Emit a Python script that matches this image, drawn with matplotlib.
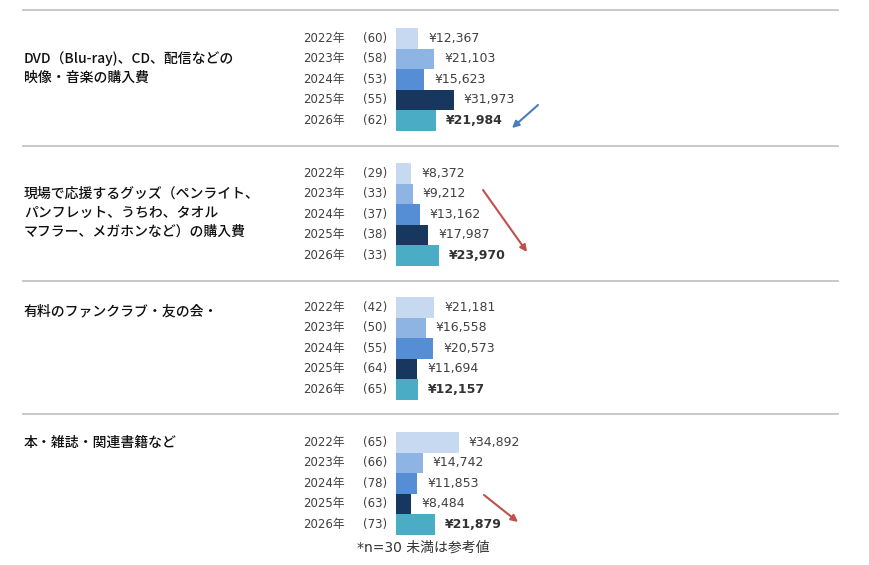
import matplotlib
matplotlib.use("Agg")
import matplotlib.pyplot as plt
from matplotlib.transforms import blended_transform_factory

plt.rcParams['font.family'] = ['Noto Sans CJK JP', 'DejaVu Sans']
latin_first = ['DejaVu Sans', 'Noto Sans CJK JP']

# data
categories = [
    "DVD（Blu-ray)、CD、配信などの\n映像・音楽の購入費",
    "現場で応援するグッズ（ペンライト、\nパンフレット、うちわ、タオル\nマフラー、メガホンなど）の購入費",
    "有料のファンクラブ・友の会・",
    "本・雑誌・関連書籍など",
]
years = ["2022年", "2023年", "2024年", "2025年", "2026年"]
counts = [
    [60, 58, 53, 55, 62],
    [29, 33, 37, 38, 33],
    [42, 50, 55, 64, 65],
    [65, 66, 78, 63, 73],
]
amounts = [
    [12367, 21103, 15623, 31973, 21984],
    [8372, 9212, 13162, 17987, 23970],
    [21181, 16558, 20573, 11694, 12157],
    [34892, 14742, 11853, 8484, 21879],
]
note = "*n=30 未満は参考値"

colors = ["#c6d9f0", "#8eb4e3", "#558ed5", "#17375e", "#4bacc6"]

# layout (pixels)
W, H = 870, 565
bar_left_px = 396
px_per_yen = 0.0018
group_top = [28, 163, 297, 432]
bar_h = 20.5
sep_y = [10, 146, 281, 414]
label_off = [40, 50, 14, 11]

fig = plt.figure(figsize=(W / 100, H / 100), dpi=100)
ax = fig.add_axes([0, 0, 1, 1])
ax.set_xlim(-bar_left_px / px_per_yen, (W - bar_left_px) / px_per_yen)
ax.set_ylim(H, 0)
ax.axis('off')

fx = blended_transform_factory(fig.transFigure, ax.transData)

for y in sep_y:
    ax.axhline(y, xmin=23 / W, xmax=838 / W, color="#c4c4c4", lw=1.3)

for g, cat in enumerate(categories):
    ys = [group_top[g] + bar_h * (i + 0.5) for i in range(len(years))]
    ax.barh(ys, amounts[g], height=bar_h, color=colors, left=0)
    ax.text(24 / W, group_top[g] + label_off[g], cat, transform=fx,
            fontsize=10, color="#111111", va='center', linespacing=1.45,
            fontweight='medium')
    for i, y in enumerate(ys):
        ax.text(303 / W, y, years[i], transform=fx, fontsize=8.5,
                color="#404040", va='center', family=latin_first)
        ax.text(363 / W, y, f"({counts[g][i]})", transform=fx, fontsize=8.5,
                color="#404040", va='center', family=latin_first)
        last = i == len(years) - 1
        ax.annotate(f"¥{amounts[g][i]:,}", (amounts[g][i], y),
                    xytext=(7.2, 0), textcoords='offset points',
                    fontsize=9, color="#333333" if last else "#404040",
                    fontweight='bold' if last else 'normal',
                    family='DejaVu Sans', va='center', ha='left')

ax.text(423 / W, 548, note, transform=fx, fontsize=10, color="#333333",
        ha='center', va='center', family=latin_first)

# trend arrows
arrows = [
    ((538, 105), (512, 128), "#4a7ebb"),
    ((483, 190), (527, 252), "#c0504d"),
    ((484, 495), (518, 522), "#c0504d"),
]
for (x0, y0), (x1, y1), c in arrows:
    ax.annotate("", xy=(x1, H - y1), xytext=(x0, H - y0),
                xycoords='figure pixels', textcoords='figure pixels',
                arrowprops=dict(arrowstyle='-|>', color=c, lw=1.5,
                                mutation_scale=10, shrinkA=0, shrinkB=0))

fig.savefig("out.png", dpi=100, facecolor="white")
